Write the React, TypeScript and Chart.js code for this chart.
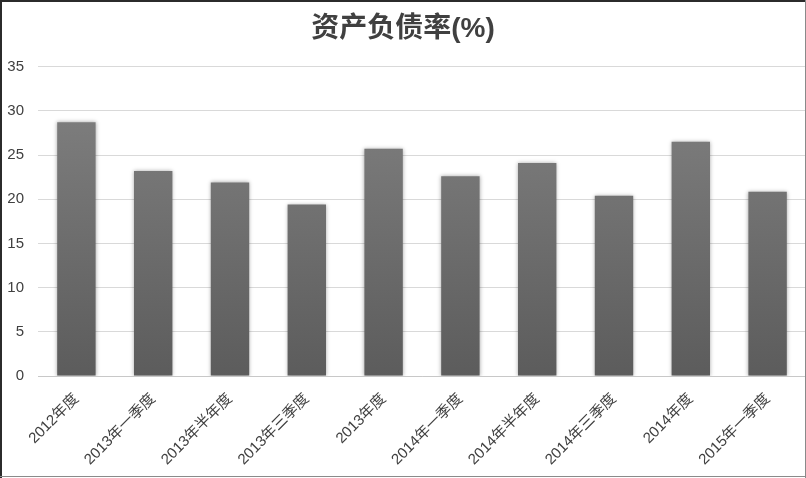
import React, { useEffect, useRef } from "react";
import { Chart, registerables } from "chart.js";

Chart.register(...registerables);

const titleText = "资产负债率(%)";
const categories = [
  "2012年度",
  "2013年一季度",
  "2013年半年度",
  "2013年三季度",
  "2013年度",
  "2014年一季度",
  "2014年半年度",
  "2014年三季度",
  "2014年度",
  "2015年一季度",
];
const values = [28.7, 23.2, 21.9, 19.4, 25.7, 22.6, 24.1, 20.4, 26.5, 20.85];
const yMin = 0;
const yMax = 35;
const yStep = 5;

const FONT = "'Liberation Sans', 'Noto Sans CJK SC', sans-serif";

const framePlugin = {
  id: "frame",
  beforeDatasetsDraw(chart: any) {
    const ctx = chart.ctx;
    ctx.save();
    ctx.shadowColor = "rgba(0,0,0,0.35)";
    ctx.shadowBlur = 4;
    ctx.shadowOffsetX = 0;
    ctx.shadowOffsetY = 0;
  },
  afterDatasetsDraw(chart: any) {
    chart.ctx.restore();
  },
  afterDraw(chart: any) {
    const ctx = chart.ctx;
    const w = chart.width;
    const h = chart.height;
    ctx.save();
    ctx.fillStyle = "#2b2b2b";
    ctx.fillRect(0, 0, w, 2);
    ctx.fillRect(0, 0, 2, h);
    ctx.fillStyle = "#8a8a8a";
    ctx.fillRect(w - 1, 0, 1, h);
    ctx.fillRect(0, h - 2, w, 1);
    ctx.restore();
  },
};

export default function App() {
  const ref = useRef<HTMLCanvasElement>(null);
  useEffect(() => {
    document.body.style.margin = "0";
    const canvas = ref.current!;
    const chart = new Chart(canvas, {
      type: "bar",
      data: {
        labels: categories,
        datasets: [
          {
            data: values,
            backgroundColor: (c: any) => {
              const area = c.chart.chartArea;
              if (!area) return "#707070";
              const g = c.chart.ctx.createLinearGradient(0, area.top, 0, area.bottom);
              g.addColorStop(0, "#838383");
              g.addColorStop(1, "#5c5c5c");
              return g;
            },
            borderWidth: 0,
            barPercentage: 0.5,
            categoryPercentage: 1,
          },
        ],
      },
      options: {
        responsive: false,
        animation: false,
        devicePixelRatio: 1,
        layout: { padding: { left: 0, right: 0, top: 0, bottom: 0 } },
        plugins: {
          legend: { display: false },
          tooltip: { enabled: false },
          title: {
            display: true,
            text: titleText,
            color: "#404040",
            font: { family: FONT, size: 28, weight: "bold" },
            padding: { top: 12, bottom: 21 },
          },
        },
        scales: {
          x: {
            grid: { display: false, drawTicks: false },
            border: { display: true, color: "#c8c8c8" },
            ticks: {
              color: "#404040",
              font: { family: FONT, size: 15 },
              minRotation: 45,
              maxRotation: 45,
              padding: 14,
              autoSkip: false,
            },
            afterFit: (s: any) => {
              s.height = 102;
            },
          },
          y: {
            min: yMin,
            max: yMax,
            ticks: {
              stepSize: yStep,
              color: "#404040",
              font: { family: FONT, size: 15 },
              padding: 14,
            },
            grid: { color: "#d9d9d9", lineWidth: 1, drawTicks: false },
            border: { display: false },
            afterFit: (s: any) => {
              s.width = 38;
            },
          },
        },
      },
      plugins: [framePlugin],
    });
    return () => chart.destroy();
  }, []);
  return <canvas ref={ref} width={806} height={478} style={{ display: "block" }} />;
}
